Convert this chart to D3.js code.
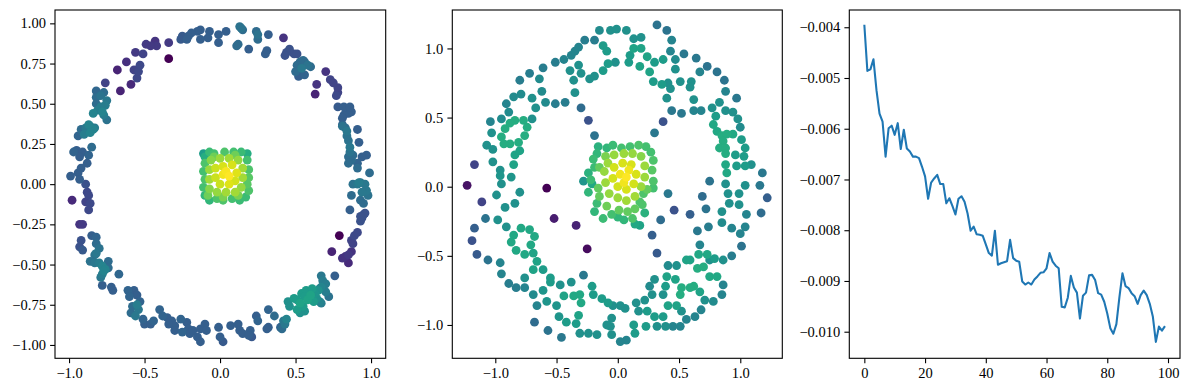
<!DOCTYPE html>
<html>
<head>
<meta charset="utf-8">
<script src="https://cdn.jsdelivr.net/npm/d3@7"></script>
<style>
body { margin: 0; background: #fff; }
svg { display: block; }
</style>
</head>
<body>
<svg id="fig" width="1189" height="390"></svg>
<script>
// left panel: noisy ring plus a dense core, [x, y, colour value]
const ringA = [
    [-0.34, 0.78, 0.0], [-0.34, 0.88, 0.17], [-0.43, 0.89, 0.15], [-0.42, 0.86, 0.17], [-0.46, 0.86, 0.17],
    [-0.49, 0.87, 0.17], [-0.51, 0.81, 0.2], [-0.56, 0.82, 0.17], [-0.62, 0.76, 0.14], [-0.68, 0.71, 0.1],
    [-0.66, 0.58, 0.1], [-0.59, 0.62, 0.12], [-0.55, 0.66, 0.22], [-0.54, 0.70, 0.22], [-0.57, 0.71, 0.2],
    [-0.53, 0.74, 0.22], [-0.76, 0.63, 0.2],
    [-0.82, 0.58, 0.33], [-0.79, 0.55, 0.38], [-0.77, 0.57, 0.35], [-0.82, 0.54, 0.35], [-0.75, 0.52, 0.4],
    [-0.76, 0.49, 0.42], [-0.79, 0.48, 0.42], [-0.84, 0.44, 0.45], [-0.77, 0.43, 0.42], [-0.75, 0.40, 0.38],
    [-0.81, 0.46, 0.42], [-0.82, 0.50, 0.35], [-0.78, 0.45, 0.45],
    [-0.86, 0.36, 0.42], [-0.89, 0.35, 0.4], [-0.92, 0.34, 0.35], [-0.84, 0.34, 0.45], [-0.87, 0.37, 0.45],
    [-0.83, 0.35, 0.42], [-0.90, 0.31, 0.42], [-0.86, 0.32, 0.45], [-0.94, 0.30, 0.32], [-0.85, 0.23, 0.35],
    [-0.97, 0.20, 0.32], [-0.95, 0.21, 0.3], [-0.91, 0.20, 0.3], [-0.93, 0.17, 0.3], [-0.87, 0.18, 0.32],
    [-0.88, 0.13, 0.3], [-0.92, 0.10, 0.3], [-0.94, 0.07, 0.3], [-0.99, 0.05, 0.3], [-0.93, 0.03, 0.3],
    [-0.89, 0.0, 0.25], [-0.98, -0.10, 0.12], [-0.88, -0.05, 0.22], [-0.87, -0.07, 0.22], [-0.86, -0.12, 0.22],
    [-0.89, -0.11, 0.2], [-0.87, -0.16, 0.22], [-0.93, -0.25, 0.15], [-0.91, -0.25, 0.17],
    [-0.92, -0.35, 0.25], [-0.93, -0.39, 0.25], [-0.91, -0.41, 0.28], [-0.85, -0.32, 0.3], [-0.82, -0.33, 0.32],
    [-0.82, -0.37, 0.35], [-0.80, -0.40, 0.38], [-0.82, -0.43, 0.4], [-0.83, -0.44, 0.38],
    [-0.86, -0.48, 0.38], [-0.83, -0.49, 0.4], [-0.80, -0.49, 0.42], [-0.78, -0.51, 0.45], [-0.76, -0.53, 0.45],
    [-0.74, -0.48, 0.35], [-0.74, -0.52, 0.35], [-0.78, -0.56, 0.42], [-0.79, -0.58, 0.4], [-0.77, -0.54, 0.45],
    [-0.67, -0.56, 0.33], [-0.78, -0.63, 0.3], [-0.72, -0.64, 0.3], [-0.71, -0.66, 0.3],
    [-0.61, -0.66, 0.32], [-0.60, -0.70, 0.32], [-0.57, -0.66, 0.3], [-0.55, -0.69, 0.3], [-0.59, -0.80, 0.35],
    [-0.58, -0.76, 0.35], [-0.55, -0.75, 0.42], [-0.54, -0.78, 0.4], [-0.53, -0.73, 0.32], [-0.56, -0.82, 0.4],
    [-0.51, -0.84, 0.32], [-0.50, -0.87, 0.3], [-0.46, -0.87, 0.3], [-0.44, -0.85, 0.32],
    [-0.40, -0.78, 0.32], [-0.38, -0.82, 0.32], [-0.35, -0.83, 0.3], [-0.32, -0.85, 0.3], [-0.30, -0.88, 0.3],
    [-0.30, -0.91, 0.3], [-0.34, -0.87, 0.3], [-0.26, -0.84, 0.32], [-0.22, -0.86, 0.3], [-0.21, -0.90, 0.3],
    [-0.20, -0.93, 0.3], [-0.25, -0.92, 0.32], [-0.15, -0.95, 0.3], [-0.13, -0.98, 0.3], [-0.18, -0.91, 0.3],
    [-0.13, -0.90, 0.3], [-0.10, -0.87, 0.3], [-0.09, -0.91, 0.3],
    [-0.01, -0.89, 0.3], [0.0, -0.95, 0.3], [0.02, -0.98, 0.28], [0.07, -0.88, 0.3], [0.12, -0.87, 0.3],
    [0.13, -0.91, 0.3], [0.15, -0.93, 0.3], [0.20, -0.91, 0.3], [0.19, -0.94, 0.3], [0.21, -0.95, 0.27],
    [0.24, -0.82, 0.3], [0.25, -0.85, 0.32], [0.32, -0.78, 0.32], [0.32, -0.89, 0.3], [0.31, -0.90, 0.3],
    [0.36, -0.82, 0.35], [0.40, -0.89, 0.32], [0.41, -0.90, 0.35], [0.42, -0.85, 0.4], [0.44, -0.84, 0.45],
    [0.43, -0.87, 0.4],
    [0.45, -0.73, 0.5], [0.49, -0.71, 0.55], [0.51, -0.72, 0.55], [0.53, -0.74, 0.58], [0.55, -0.76, 0.55],
    [0.56, -0.79, 0.5], [0.53, -0.80, 0.5], [0.51, -0.78, 0.55], [0.46, -0.76, 0.5], [0.54, -0.68, 0.55],
    [0.57, -0.66, 0.55], [0.61, -0.65, 0.55], [0.63, -0.68, 0.52], [0.64, -0.71, 0.5], [0.66, -0.73, 0.45],
    [0.62, -0.73, 0.55], [0.58, -0.72, 0.58], [0.60, -0.69, 0.58], [0.65, -0.66, 0.5], [0.67, -0.74, 0.42],
    [0.56, -0.70, 0.55],
    [0.67, -0.57, 0.4], [0.68, -0.60, 0.42], [0.67, -0.64, 0.45], [0.70, -0.67, 0.42], [0.72, -0.70, 0.38],
    [0.70, -0.62, 0.42], [0.66, -0.65, 0.45], [0.76, -0.57, 0.3], [0.74, -0.42, 0.1], [0.79, -0.32, 0.0],
    [0.85, -0.49, 0.12], [0.81, -0.46, 0.15], [0.83, -0.45, 0.15], [0.85, -0.44, 0.17], [0.87, -0.42, 0.15],
    [0.87, -0.35, 0.2], [0.89, -0.32, 0.22], [0.88, -0.37, 0.2], [0.91, -0.30, 0.22],
    [0.93, -0.23, 0.25], [0.94, -0.21, 0.25], [0.95, -0.19, 0.25], [0.96, -0.18, 0.25], [0.93, -0.20, 0.25],
    [0.86, -0.16, 0.3], [0.87, -0.07, 0.35], [0.88, 0.0, 0.38], [0.91, 0.0, 0.4], [0.93, 0.01, 0.38],
    [0.96, 0.0, 0.4], [0.97, -0.04, 0.4], [0.98, -0.07, 0.38], [0.94, -0.05, 0.4], [0.93, -0.10, 0.35],
    [0.95, -0.12, 0.35], [0.92, 0.01, 0.42],
    [0.99, 0.07, 0.35], [0.97, 0.18, 0.3], [0.94, 0.17, 0.3], [0.91, 0.13, 0.32], [0.87, 0.15, 0.35],
    [0.86, 0.20, 0.38], [0.85, 0.27, 0.38], [0.84, 0.30, 0.38], [0.92, 0.26, 0.3], [0.91, 0.34, 0.3],
    [0.84, 0.33, 0.4], [0.81, 0.36, 0.38], [0.83, 0.35, 0.35], [0.81, 0.37, 0.32], [0.86, 0.23, 0.4],
    [0.88, 0.18, 0.35], [0.85, 0.17, 0.35], [0.91, 0.10, 0.35], [0.85, 0.13, 0.35],
    [0.87, 0.45, 0.3], [0.85, 0.44, 0.3], [0.82, 0.43, 0.3], [0.81, 0.41, 0.3], [0.78, 0.48, 0.28],
    [0.82, 0.48, 0.3], [0.86, 0.48, 0.3],
    [0.77, 0.55, 0.22], [0.78, 0.57, 0.2], [0.78, 0.60, 0.2], [0.75, 0.63, 0.2], [0.73, 0.65, 0.2],
    [0.70, 0.70, 0.15], [0.64, 0.62, 0.15], [0.63, 0.56, 0.1],
    [0.60, 0.73, 0.35], [0.58, 0.74, 0.38], [0.56, 0.76, 0.35], [0.55, 0.77, 0.35], [0.53, 0.76, 0.35],
    [0.51, 0.74, 0.35], [0.50, 0.70, 0.35], [0.53, 0.68, 0.3], [0.52, 0.67, 0.3], [0.56, 0.68, 0.32],
    [0.54, 0.72, 0.4],
    [0.49, 0.81, 0.25], [0.46, 0.84, 0.25], [0.44, 0.82, 0.25], [0.43, 0.80, 0.25], [0.51, 0.81, 0.25],
    [0.42, 0.91, 0.15],
    [0.31, 0.83, 0.3], [0.30, 0.81, 0.3], [0.25, 0.90, 0.35], [0.24, 0.95, 0.35], [0.25, 0.93, 0.38],
    [0.32, 0.93, 0.3], [0.19, 0.84, 0.3], [0.12, 0.87, 0.35], [0.11, 0.86, 0.35], [0.13, 0.98, 0.38],
    [0.15, 0.96, 0.35], [0.14, 0.97, 0.38], [0.04, 0.95, 0.3], [-0.01, 0.93, 0.3], [-0.07, 0.95, 0.3],
    [-0.01, 0.88, 0.3], [-0.08, 0.91, 0.3], [-0.13, 0.96, 0.3], [-0.15, 0.95, 0.3], [-0.13, 0.90, 0.3],
    [-0.19, 0.94, 0.3], [-0.21, 0.92, 0.3], [-0.25, 0.92, 0.28], [-0.26, 0.90, 0.28], [-0.22, 0.90, 0.3]
];

const coreA = [
    [-0.11, 0.19, 0.55], [-0.07, 0.20, 0.68], [-0.04, 0.19, 0.7], [0.03, 0.20, 0.72], [0.09, 0.20, 0.7],
    [0.14, 0.20, 0.68], [0.18, 0.19, 0.62], [0.18, 0.15, 0.7], [0.19, 0.09, 0.72], [0.19, 0.04, 0.74],
    [0.18, 0.0, 0.74], [0.19, -0.04, 0.72], [0.17, -0.08, 0.68], [0.13, -0.10, 0.68], [0.08, -0.09, 0.7],
    [0.02, -0.10, 0.72], [-0.02, -0.09, 0.72], [-0.07, -0.10, 0.66], [-0.10, -0.07, 0.66], [-0.11, -0.02, 0.7],
    [-0.10, 0.03, 0.72], [-0.11, 0.08, 0.7], [-0.10, 0.13, 0.72], [-0.10, 0.17, 0.62],
    [-0.06, 0.15, 0.82], [0.0, 0.16, 0.85], [0.06, 0.16, 0.86], [0.12, 0.15, 0.84], [0.15, 0.10, 0.86],
    [0.15, 0.04, 0.86], [0.14, -0.02, 0.84], [0.10, -0.05, 0.86], [0.04, -0.05, 0.86], [-0.02, -0.05, 0.84],
    [-0.07, -0.03, 0.82], [-0.07, 0.03, 0.86], [-0.07, 0.09, 0.85], [0.02, -0.08, 0.8], [0.12, -0.07, 0.8],
    [-0.08, -0.07, 0.78], [-0.04, 0.17, 0.78], [0.10, 0.18, 0.78],
    [-0.03, 0.10, 0.92], [0.02, 0.11, 0.94], [0.08, 0.12, 0.94], [0.11, 0.07, 0.95], [0.10, 0.02, 0.93],
    [0.06, 0.0, 0.95], [0.0, 0.0, 0.92], [-0.03, 0.04, 0.92], [0.02, 0.06, 0.98], [0.06, 0.05, 1.0],
    [0.04, 0.08, 0.99]
];

// middle panel: ring of small loops, stray points and a core
const loopsB = [
    [-0.15, 1.13, 0.48], [-0.06, 1.13, 0.5], [-0.01, 1.14, 0.5], [-0.19, 1.06, 0.42], [-0.27, 1.06, 0.42],
    [-0.12, 1.02, 0.55], [-0.09, 0.98, 0.55], [-0.08, 0.89, 0.55], [-0.12, 0.84, 0.55], [-0.19, 0.80, 0.5],
    [-0.23, 0.78, 0.5], [-0.30, 0.82, 0.5], [-0.32, 0.88, 0.5], [-0.39, 0.84, 0.5], [-0.36, 0.77, 0.5],
    [-0.35, 0.68, 0.5], [-0.43, 0.61, 0.42], [-0.51, 0.60, 0.42], [-0.59, 0.61, 0.48], [-0.62, 0.69, 0.48],
    [-0.64, 0.78, 0.48], [-0.70, 0.64, 0.5], [-0.67, 0.57, 0.5], [-0.70, 0.49, 0.5], [-0.79, 0.67, 0.48],
    [-0.85, 0.65, 0.48], [-0.91, 0.60, 0.45], [-0.89, 0.54, 0.48], [-0.95, 0.49, 0.48], [-1.04, 0.47, 0.45],
    [-0.80, 0.77, 0.42], [-0.72, 0.82, 0.42], [-0.61, 0.86, 0.42], [-0.51, 0.90, 0.42], [-0.44, 0.92, 0.45],
    [-0.38, 0.95, 0.45], [-0.35, 0.98, 0.45], [-0.32, 1.01, 0.45],
    [-0.84, 0.48, 0.62], [-0.77, 0.48, 0.62], [-0.74, 0.43, 0.62], [-0.76, 0.37, 0.62], [-0.81, 0.32, 0.62],
    [-0.88, 0.31, 0.62], [-0.93, 0.31, 0.62], [-0.95, 0.36, 0.62], [-0.92, 0.42, 0.62], [-0.88, 0.46, 0.62],
    [-1.03, 0.39, 0.5], [-1.07, 0.30, 0.5], [-1.02, 0.27, 0.5], [-1.02, 0.18, 0.5], [-0.96, 0.12, 0.5],
    [-0.96, 0.08, 0.52], [-0.95, 0.02, 0.5], [-0.87, 0.07, 0.52], [-0.85, 0.16, 0.58], [-0.84, 0.23, 0.58],
    [-0.80, 0.26, 0.58],
    [-1.17, 0.16, 0.2], [-1.23, 0.01, 0.05], [-0.58, -0.01, 0.0], [-0.30, 0.57, 0.35], [-0.24, 0.48, 0.25],
    [-0.19, 0.37, 0.38], [-0.28, 0.04, 0.52],
    [0.07, 1.13, 0.5], [0.13, 1.07, 0.5], [0.19, 1.08, 0.5], [0.32, 1.17, 0.38], [0.40, 1.13, 0.38],
    [0.44, 1.06, 0.45], [0.43, 0.98, 0.45], [0.47, 0.92, 0.48], [0.54, 0.96, 0.4], [0.64, 0.93, 0.4],
    [0.73, 0.87, 0.38], [0.67, 0.83, 0.45], [0.81, 0.83, 0.38], [0.87, 0.77, 0.38], [0.88, 0.69, 0.45],
    [0.97, 0.64, 0.4], [0.83, 0.61, 0.5], [0.77, 0.57, 0.5], [0.88, 0.55, 0.5], [0.94, 0.54, 0.5],
    [0.80, 0.51, 0.55], [0.98, 0.49, 0.5], [1.00, 0.43, 0.48], [0.78, 0.45, 0.6], [0.81, 0.40, 0.6],
    [0.85, 0.37, 0.62], [0.89, 0.38, 0.62], [0.94, 0.38, 0.6], [0.86, 0.33, 0.62], [0.83, 0.28, 0.62],
    [0.88, 0.28, 0.62], [0.88, 0.24, 0.62], [1.01, 0.34, 0.55], [1.04, 0.28, 0.55], [0.96, 0.23, 0.55],
    [1.03, 0.22, 0.55], [0.88, 0.16, 0.6], [0.89, 0.10, 0.6], [0.97, 0.15, 0.55], [1.04, 0.15, 0.55],
    [1.09, 0.16, 0.5], [1.18, 0.10, 0.4], [0.75, 0.04, 0.38], [0.88, 0.02, 0.5], [1.04, 0.01, 0.5],
    [1.16, 0.01, 0.4],
    [-0.02, 0.90, 0.5], [0.10, 0.95, 0.55], [0.09, 0.90, 0.55], [0.13, 1.00, 0.58], [0.19, 1.00, 0.58],
    [0.24, 0.94, 0.58], [0.18, 0.87, 0.58], [0.26, 0.83, 0.58], [0.30, 0.90, 0.55], [0.37, 0.92, 0.55],
    [0.29, 0.76, 0.55], [0.36, 0.74, 0.55], [0.41, 0.75, 0.5], [0.43, 0.71, 0.5], [0.47, 0.85, 0.5],
    [0.51, 0.76, 0.5], [0.60, 0.76, 0.5], [0.59, 0.72, 0.5], [0.40, 0.64, 0.5], [0.62, 0.63, 0.5],
    [0.44, 0.55, 0.4], [0.52, 0.53, 0.4], [0.62, 0.55, 0.45], [0.68, 0.55, 0.45], [0.37, 0.47, 0.25],
    [0.30, 0.39, 0.4],
    [0.35, -0.24, 0.35], [0.41, -0.05, 0.4], [0.46, -0.17, 0.25], [0.59, -0.20, 0.3], [0.69, -0.07, 0.35],
    [0.72, -0.16, 0.38], [0.28, -0.35, 0.3], [0.32, -0.48, 0.28], [0.65, -0.32, 0.4], [0.74, -0.29, 0.42],
    [0.67, -0.42, 0.45],
    [0.90, -0.05, 0.5], [0.99, -0.05, 0.5], [1.22, -0.08, 0.3], [1.17, -0.19, 0.35], [1.05, -0.20, 0.45],
    [0.99, -0.13, 0.5], [0.91, -0.12, 0.5], [0.85, -0.18, 0.5], [0.85, -0.26, 0.48], [0.93, -0.30, 0.45],
    [1.00, -0.34, 0.45], [1.04, -0.29, 0.45], [1.01, -0.43, 0.38], [0.93, -0.50, 0.42], [0.86, -0.53, 0.5],
    [0.75, -0.53, 0.5], [0.79, -0.52, 0.55], [0.73, -0.49, 0.6], [0.66, -0.49, 0.6], [0.56, -0.53, 0.58],
    [0.59, -0.53, 0.58], [0.48, -0.57, 0.5], [0.41, -0.57, 0.48], [0.65, -0.59, 0.62], [0.70, -0.58, 0.62],
    [0.75, -0.65, 0.6], [0.81, -0.65, 0.6], [0.86, -0.71, 0.45], [0.85, -0.78, 0.45], [0.78, -0.83, 0.48],
    [0.71, -0.82, 0.5], [0.67, -0.76, 0.58], [0.62, -0.72, 0.62], [0.59, -0.73, 0.62], [0.52, -0.73, 0.62],
    [0.51, -0.78, 0.62], [0.47, -0.67, 0.58], [0.40, -0.65, 0.58], [0.39, -0.72, 0.55], [0.37, -0.78, 0.5],
    [0.30, -0.67, 0.5], [0.26, -0.72, 0.48], [0.28, -0.78, 0.5], [0.22, -0.82, 0.5], [0.15, -0.84, 0.5],
    [0.17, -0.90, 0.5], [0.24, -0.90, 0.55], [0.30, -0.94, 0.55], [0.37, -0.94, 0.55], [0.41, -0.86, 0.58],
    [0.48, -0.86, 0.58], [0.52, -0.90, 0.5], [0.56, -0.96, 0.45], [0.63, -0.94, 0.45], [0.68, -0.89, 0.45],
    [0.45, -1.01, 0.45], [0.51, -1.01, 0.45], [0.39, -1.01, 0.5], [0.32, -1.01, 0.5], [0.23, -1.01, 0.55],
    [0.13, -1.00, 0.55], [0.14, -1.06, 0.55], [0.07, -1.11, 0.45], [0.02, -1.12, 0.45], [0.06, -0.88, 0.5],
    [0.02, -0.86, 0.5], [-0.04, -0.86, 0.5], [-0.05, -0.95, 0.5], [-0.06, -1.01, 0.5], [-0.05, -1.07, 0.5],
    [-1.11, -0.11, 0.2], [-0.80, -0.04, 0.5], [-0.99, -0.06, 0.5], [-0.92, -0.15, 0.5], [-0.84, -0.12, 0.5],
    [-1.08, -0.23, 0.38], [-1.17, -0.30, 0.3], [-1.19, -0.39, 0.25], [-1.15, -0.49, 0.28], [-1.06, -0.53, 0.38],
    [-0.96, -0.55, 0.45], [-0.95, -0.63, 0.45], [-0.89, -0.70, 0.42], [-0.83, -0.73, 0.42], [-0.76, -0.73, 0.45],
    [-0.69, -0.78, 0.48], [-0.66, -0.86, 0.45], [-0.68, -0.98, 0.35], [-0.57, -1.04, 0.38], [-0.46, -1.09, 0.4],
    [-0.98, -0.24, 0.5], [-0.91, -0.29, 0.5],
    [-0.85, -0.35, 0.6], [-0.79, -0.30, 0.6], [-0.72, -0.31, 0.6], [-0.68, -0.36, 0.6], [-0.71, -0.42, 0.6],
    [-0.76, -0.49, 0.6], [-0.83, -0.46, 0.6], [-0.87, -0.40, 0.6],
    [-0.69, -0.48, 0.58], [-0.66, -0.54, 0.58], [-0.69, -0.60, 0.58], [-0.61, -0.60, 0.55], [-0.55, -0.66, 0.55],
    [-0.55, -0.69, 0.55], [-0.76, -0.66, 0.5], [-0.61, -0.75, 0.52], [-0.58, -0.83, 0.52], [-0.50, -0.86, 0.52],
    [-0.47, -0.71, 0.5], [-0.38, -0.69, 0.5], [-0.44, -0.79, 0.58], [-0.36, -0.79, 0.6], [-0.30, -0.84, 0.6],
    [-0.31, -0.78, 0.6], [-0.28, -0.64, 0.4], [-0.48, -0.94, 0.52], [-0.42, -0.98, 0.55], [-0.34, -0.99, 0.55],
    [-0.32, -0.93, 0.58], [-0.31, -1.06, 0.5], [-0.24, -1.06, 0.5], [-0.17, -1.07, 0.5], [-0.09, -1.00, 0.5],
    [-0.21, -0.72, 0.55], [-0.20, -0.78, 0.55], [-0.13, -0.81, 0.55], [-0.08, -0.84, 0.55],
    [-0.52, -0.23, 0.08], [-0.34, -0.28, 0.1], [-0.25, -0.45, 0.03]
];

const coreB = [
    [-0.16, 0.29, 0.64], [-0.17, 0.24, 0.66], [-0.09, 0.28, 0.66], [-0.19, 0.14, 0.68], [-0.24, 0.10, 0.64],
    [-0.21, 0.02, 0.6], [0.29, -0.01, 0.7], [0.21, -0.05, 0.72], [0.18, -0.11, 0.72], [0.22, -0.19, 0.64],
    [0.05, -0.24, 0.66], [0.14, -0.27, 0.6], [0.18, -0.28, 0.58], [-0.24, -0.04, 0.66], [-0.17, -0.12, 0.68],
    [-0.19, -0.18, 0.66], [-0.12, -0.23, 0.68], [-0.05, -0.20, 0.7], [-0.15, -0.07, 0.76], [-0.09, -0.14, 0.78],
    [-0.04, 0.30, 0.68], [0.03, 0.28, 0.7], [0.10, 0.29, 0.7], [0.17, 0.30, 0.72], [0.23, 0.29, 0.7],
    [0.27, 0.25, 0.7], [0.29, 0.19, 0.72], [0.28, 0.12, 0.74], [0.29, 0.04, 0.72], [0.24, -0.02, 0.76],
    [0.20, -0.13, 0.72], [0.14, -0.16, 0.76], [0.08, -0.18, 0.76], [0.01, -0.17, 0.76], [0.12, -0.23, 0.72],
    [0.0, -0.22, 0.66], [-0.20, 0.20, 0.68], [-0.15, 0.14, 0.76], [-0.22, 0.05, 0.68], [-0.16, -0.01, 0.76],
    [-0.10, 0.22, 0.8], [-0.03, 0.23, 0.84], [0.05, 0.24, 0.85], [0.12, 0.24, 0.84], [0.19, 0.22, 0.82],
    [0.22, 0.15, 0.85], [0.22, 0.07, 0.85], [0.19, 0.0, 0.85], [0.14, -0.07, 0.86], [0.07, -0.10, 0.86],
    [0.0, -0.08, 0.85], [-0.07, -0.05, 0.84], [-0.10, 0.03, 0.85], [-0.11, 0.11, 0.84], [-0.08, 0.17, 0.85],
    [-0.03, 0.14, 0.93], [0.04, 0.17, 0.94], [0.11, 0.16, 0.94], [0.15, 0.09, 0.94], [0.13, 0.02, 0.93],
    [0.07, -0.02, 0.94], [0.0, 0.0, 0.93], [-0.04, 0.06, 0.93], [0.02, 0.09, 0.98], [0.07, 0.07, 1.0],
    [0.09, 0.12, 0.98], [0.05, 0.03, 0.98]
];

// right panel: one value per step
const lossY = [
    -0.00395, -0.00486, -0.00483, -0.00463, -0.00524, -0.0057, -0.00586, -0.00655, -0.00599, -0.00594,
    -0.00612, -0.00589, -0.0064, -0.00602, -0.00639, -0.00645, -0.00655, -0.00655, -0.00658, -0.00675,
    -0.00694, -0.00738, -0.00706, -0.00698, -0.00691, -0.00709, -0.00709, -0.00747, -0.00737, -0.00752,
    -0.00769, -0.00738, -0.00733, -0.00744, -0.00767, -0.00801, -0.00793, -0.00808, -0.00809, -0.00811,
    -0.00828, -0.00845, -0.0085, -0.00801, -0.00868, -0.00865, -0.00863, -0.00861, -0.00819, -0.00855,
    -0.0086, -0.00862, -0.00901, -0.00907, -0.00903, -0.00907, -0.00897, -0.00891, -0.00884, -0.00883,
    -0.00875, -0.00845, -0.00862, -0.0087, -0.00875, -0.00951, -0.00952, -0.00933, -0.0089, -0.00913,
    -0.00923, -0.00974, -0.00929, -0.00923, -0.00889, -0.00888, -0.00898, -0.00924, -0.00927, -0.00941,
    -0.00964, -0.00993, -0.01004, -0.00985, -0.00932, -0.00885, -0.0091, -0.00914, -0.00924, -0.0093,
    -0.00945, -0.00928, -0.00919, -0.00928, -0.00945, -0.0097, -0.0102, -0.0099, -0.00998, -0.00989
];

const ticksA_x = [-1.0, -0.5, 0.0, 0.5, 1.0];
const ticksA_y = [-1.0, -0.75, -0.5, -0.25, 0.0, 0.25, 0.5, 0.75, 1.0];
const ticksB_x = [-1.0, -0.5, 0.0, 0.5, 1.0];
const ticksB_y = [-1.0, -0.5, 0.0, 0.5, 1.0];
const ticksC_x = [0, 20, 40, 60, 80, 100];
const ticksC_y = [-0.010, -0.009, -0.008, -0.007, -0.006, -0.005, -0.004];

const svg = d3.select('#fig');
const plotTop = 10;
const plotBottom = 358.3;
const colour = d3.scaleSequential(d3.interpolateViridis).domain([0, 1]);

function drawAxes(g, x, y, xTicks, yTicks, xFmt, yFmt) {
    const ax = g.append('g')
        .attr('transform', `translate(0,${plotBottom})`)
        .call(d3.axisBottom(x).tickValues(xTicks).tickFormat(xFmt).tickSize(4.9).tickPadding(4.2));
    const ay = g.append('g')
        .attr('transform', `translate(${x.range()[0]},0)`)
        .call(d3.axisLeft(y).tickValues(yTicks).tickFormat(yFmt).tickSize(4.9).tickPadding(4.2));
    [ax, ay].forEach((a) => {
        a.select('.domain').remove();
        a.selectAll('line').attr('stroke', '#000').attr('stroke-width', 1.1);
        a.selectAll('text')
            .attr('fill', '#000')
            .style('font-family', '"Liberation Serif", "DejaVu Serif", serif')
            .style('font-size', '14.5px');
    });
    g.append('rect')
        .attr('x', x.range()[0])
        .attr('y', plotTop)
        .attr('width', x.range()[1] - x.range()[0])
        .attr('height', plotBottom - plotTop)
        .attr('fill', 'none')
        .attr('stroke', '#000')
        .attr('stroke-width', 1.1);
}

function drawScatter(g, x, y, pts) {
    const sorted = d3.sort(pts, (d) => d[2]);
    g.append('g')
        .selectAll('circle')
        .data(sorted)
        .join('circle')
        .attr('cx', (d) => x(d[0]))
        .attr('cy', (d) => y(d[1]))
        .attr('r', 4.4)
        .attr('fill', (d) => colour(d[2]));
}

// panel 1
const xA = d3.scaleLinear().domain([-1.093, 1.097]).range([55, 385.7]);
const yA = d3.scaleLinear().domain([-1.083, 1.083]).range([plotBottom, plotTop]);
const gA = svg.append('g');
drawScatter(gA, xA, yA, ringA.concat(coreA));
drawAxes(gA, xA, yA, ticksA_x, ticksA_y, d3.format('.1f'), d3.format('.2f'));

// panel 2
const xB = d3.scaleLinear().domain([-1.351, 1.343]).range([452.3, 782.3]);
const yB = d3.scaleLinear().domain([-1.241, 1.278]).range([plotBottom, plotTop]);
const gB = svg.append('g');
drawScatter(gB, xB, yB, loopsB.concat(coreB));
drawAxes(gB, xB, yB, ticksB_x, ticksB_y, d3.format('.1f'), d3.format('.1f'));

// panel 3
const xC = d3.scaleLinear().domain([-4.95, 103.95]).range([849.3, 1180]);
const yC = d3.scaleLinear().domain([-0.010524, -0.00366]).range([plotBottom, plotTop]);
const gC = svg.append('g');
gC.append('path')
    .datum(lossY)
    .attr('fill', 'none')
    .attr('stroke', '#1f77b4')
    .attr('stroke-width', 2.08)
    .attr('stroke-linejoin', 'round')
    .attr('d', d3.line().x((d, i) => xC(i)).y((d) => yC(d)));
drawAxes(gC, xC, yC, ticksC_x, ticksC_y, d3.format('d'), d3.format('.3f'));
</script>
</body>
</html>
